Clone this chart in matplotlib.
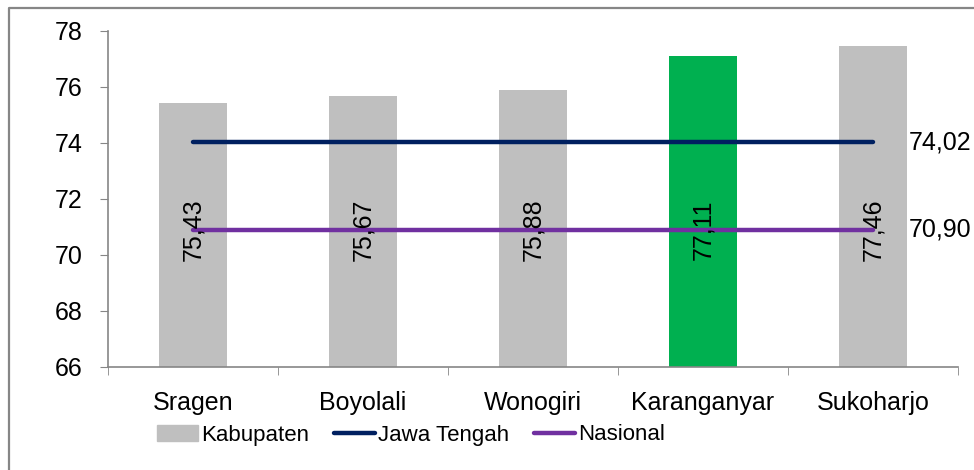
import matplotlib
matplotlib.use("Agg")
import matplotlib.pyplot as plt
from matplotlib.patches import Rectangle
from matplotlib.lines import Line2D

categories = ["Sragen", "Boyolali", "Wonogiri", "Karanganyar", "Sukoharjo"]
kabupaten = [75.43, 75.67, 75.88, 77.11, 77.46]
jawa_tengah = [74.02] * 5
nasional = [70.90] * 5
bar_labels = ["75,43", "75,67", "75,88", "77,11", "77,46"]
bar_colors = ["#BFBFBF", "#BFBFBF", "#BFBFBF", "#00B050", "#BFBFBF"]

plt.rcParams['font.family'] = ['Liberation Sans', 'DejaVu Sans']
FS = 18
fig = plt.figure(figsize=(9.74, 4.70), dpi=100)
ax = fig.add_axes([108/974, 1-367/470, 850/974, 336/470])

x = list(range(len(categories)))
ax.bar(x, [v - 66 for v in kabupaten], bottom=66, width=0.4, color=bar_colors, zorder=2)
ax.plot(x, jawa_tengah, color="#002060", lw=3.2, solid_capstyle="round", zorder=3)
ax.plot(x, nasional, color="#7030A0", lw=3.2, solid_capstyle="round", zorder=3)

for xi, lab in zip(x, bar_labels):
    ax.text(xi, 70.9, lab, rotation=90, ha="center", va="center", fontsize=FS, color="black", zorder=4)

ax.text(4.21, jawa_tengah[-1], "74,02", ha="left", va="center", fontsize=FS)
ax.text(4.21, nasional[-1], "70,90", ha="left", va="center", fontsize=FS)

ax.set_xlim(-0.5, 4.5)
ax.set_ylim(66, 78)
ax.set_yticks([66, 68, 70, 72, 74, 76, 78])
ax.set_yticklabels([str(v) for v in [66, 68, 70, 72, 74, 76, 78]], fontsize=FS)
ax.set_xticks(x)
ax.set_xticklabels(categories, fontsize=FS)
ax.tick_params(axis="x", length=0, pad=17)
ax.set_xticks([-0.5, 0.5, 1.5, 2.5, 3.5, 4.5], minor=True)
ax.tick_params(axis="x", which="minor", length=6, color="#868686")
ax.tick_params(axis="y", length=6, color="#868686", pad=12)
for s in ["top", "right"]:
    ax.spines[s].set_visible(False)
for s in ["left", "bottom"]:
    ax.spines[s].set_color("#868686")
    ax.spines[s].set_linewidth(1.2)

handles = [Rectangle((0, 0), 1, 1, color="#BFBFBF"),
           Line2D([0], [0], color="#002060", lw=3.2, solid_capstyle="round"),
           Line2D([0], [0], color="#7030A0", lw=3.2, solid_capstyle="round")]
fig.legend(handles, ["Kabupaten", "Jawa Tengah", "Nasional"], loc="center",
           bbox_to_anchor=(411/974, 1-435/470), ncol=3, frameon=False,
           prop={"size": 16},
           handlelength=1.85, handletextpad=0.15, columnspacing=1.1)

fig.add_artist(Line2D([9/974, 9/974, 1.0], [0.0, 1-8/470, 1-8/470], transform=fig.transFigure,
                      color="#868686", lw=1.6))

fig.savefig("out.png", dpi=100)
